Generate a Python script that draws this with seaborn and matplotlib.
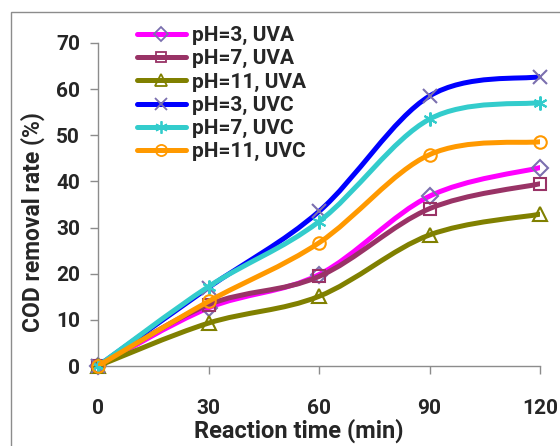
import matplotlib

matplotlib.use("Agg")
import matplotlib.pyplot as plt
import numpy as np
import seaborn as sns
from matplotlib.lines import Line2D
from matplotlib.patches import PathPatch, Rectangle
from matplotlib.path import Path


# data
TIME = [0, 30, 60, 90, 120]
UVA_PH3 = [0, 12.6, 19.8, 36.8, 43.0]
UVA_PH7 = [0, 13.3, 19.4, 34.1, 39.5]
UVA_PH11 = [0, 9.3, 15.1, 28.4, 32.9]
UVC_PH3 = [0, 17.0, 33.5, 58.5, 62.7]
UVC_PH7 = [0, 17.2, 31.3, 53.5, 57.1]
UVC_PH11 = [0, 14.0, 26.7, 45.8, 48.6]
LABELS = ["pH=3, UVA", "pH=7, UVA", "pH=11, UVA", "pH=3, UVC", "pH=7, UVC", "pH=11, UVC"]
X_TICKS = [0, 30, 60, 90, 120]
Y_TICKS = [0, 10, 20, 30, 40, 50, 60, 70]

SERIES = [UVA_PH3, UVA_PH7, UVA_PH11, UVC_PH3, UVC_PH7, UVC_PH11]
LINE_COLORS = ["#FF00FF", "#993366", "#808000", "#0000FF", "#33CCCC", "#FF9900"]
MARKER_COLORS = ["#7B6FAF", "#993366", "#808000", "#7B6FAF", "#33CCCC", "#FF9900"]
MARKERS = ["D", "s", "^", "x", (6, 2, 0), "o"]
MARKER_SIZES = [8, 8.5, 10, 10, 10, 9]

FONT = "Roboto"
GRAY = "#8C8C8C"


def smooth_path(x, y):
    # excel-style smoothed line: cubic bezier through every point
    pts = np.column_stack([x, y]).astype(float)
    n = len(pts)
    verts = [pts[0]]
    codes = [Path.MOVETO]
    for i in range(n - 1):
        p0 = pts[max(i - 1, 0)]
        p1 = pts[i]
        p2 = pts[i + 1]
        p3 = pts[min(i + 2, n - 1)]
        verts += [p1 + (p2 - p0) / 6, p2 - (p3 - p1) / 6, p2]
        codes += [Path.CURVE4] * 3
    return Path(verts, codes)


sns.set_theme(style="white")
plt.rcParams["font.family"] = [FONT, "DejaVu Sans"]
plt.rcParams["font.weight"] = "bold"

fig = plt.figure(figsize=(5.6, 4.46), dpi=100)
ax = fig.add_axes([98 / 560, 1 - 366 / 446, 442 / 560, 323 / 446])

for i, values in enumerate(SERIES):
    ax.add_patch(
        PathPatch(
            smooth_path(TIME, values),
            fill=False,
            edgecolor=LINE_COLORS[i],
            lw=3.6,
            capstyle="round",
            joinstyle="round",
            zorder=2 + i,
        )
    )
    sns.lineplot(
        x=TIME,
        y=values,
        marker=MARKERS[i],
        linestyle="",
        ms=MARKER_SIZES[i],
        mfc="none",
        mec=MARKER_COLORS[i],
        mew=1.5,
        errorbar=None,
        ax=ax,
        zorder=2.5 + i,
        clip_on=False,
    )

ax.set_xlim(0, 120)
ax.set_ylim(0, 70)
ax.set_xticks(X_TICKS)
ax.set_yticks(Y_TICKS)
ax.set_xlabel("")
ax.set_ylabel("")

for side in ["top", "right"]:
    ax.spines[side].set_visible(False)
for side in ["left", "bottom"]:
    ax.spines[side].set_color(GRAY)
    ax.spines[side].set_linewidth(1)

ax.tick_params(axis="x", direction="out", length=6, width=1, color=GRAY, pad=18,
               labelsize=15, bottom=True)
ax.tick_params(axis="y", direction="out", length=6, width=1, color=GRAY, pad=7,
               labelsize=15, left=True)
for lab in ax.get_xticklabels() + ax.get_yticklabels():
    lab.set_fontweight("bold")

fig.text(299 / 560, 1 - 431 / 446, "Reaction time (min)", ha="center", va="center",
         fontsize=17, fontweight="bold")
fig.text(33 / 560, 1 - 222 / 446, "COD removal rate (%)", ha="center", va="center",
         rotation=90, fontsize=16.5, fontweight="bold")

handles = [
    Line2D([], [], color=LINE_COLORS[i], lw=3.6, marker=MARKERS[i], ms=MARKER_SIZES[i] - 1,
           mfc="none", mec=MARKER_COLORS[i], mew=1.3)
    for i in range(len(LABELS))
]
fig.legend(
    handles,
    LABELS,
    loc="upper left",
    bbox_to_anchor=(137 / 560, 1 - 26 / 446),
    frameon=False,
    borderpad=0,
    borderaxespad=0,
    handlelength=2.35,
    handletextpad=0.28,
    labelspacing=0.2,
    prop={"size": 15, "weight": "bold"},
)

# outer chart-area frame, clipped on the right and bottom like the source
fig.patches.append(
    Rectangle((11 / 560, -0.1), 1.2, 1.1 - 12 / 446, transform=fig.transFigure,
              fill=False, edgecolor=GRAY, lw=1)
)

fig.savefig("out.png", dpi=100)
